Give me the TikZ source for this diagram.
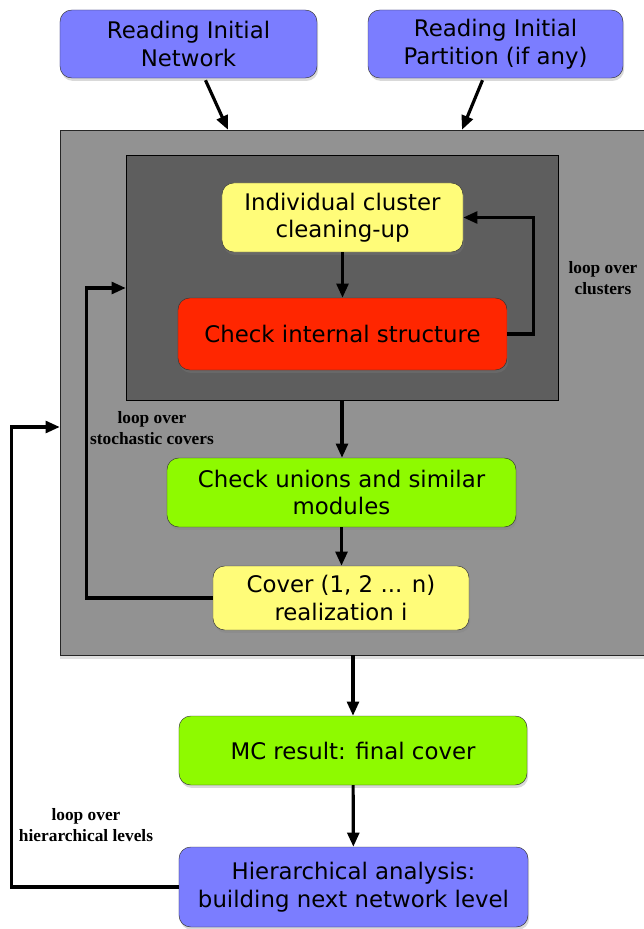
\documentclass[tikz,border=0pt]{standalone}
\usepackage{fontspec}
\setmainfont{DejaVu Sans}
\newfontfamily\looplabelfont{Liberation Serif}
\usetikzlibrary{arrows.meta,calc,shadows}

\definecolor{netblue}{RGB}{123,125,255}
\definecolor{cleanyellow}{RGB}{255,252,121}
\definecolor{checkred}{RGB}{255,38,0}
\definecolor{unionsgreen}{RGB}{142,250,0}
\definecolor{outergray}{RGB}{146,146,146}
\definecolor{innergray}{RGB}{94,94,94}

\begin{document}
\begin{tikzpicture}[x=0.03cm, y=-0.03cm,
	box/.style={draw=black!80, rounded corners=10pt, align=center, inner sep=0pt,
		font=\fontsize{19.5}{23.5}\selectfont,
		drop shadow={shadow xshift=1pt, shadow yshift=-2.5pt, opacity=0.3}},
	frame/.style={draw=black!85, inner sep=0pt},
	arr/.style={-{Triangle[length=12pt,width=10pt]}, line width=2.7pt},
	looplabel/.style={align=center, font=\looplabelfont\bfseries\fontsize{14.8}{18}\selectfont}]
	\useasboundingbox (0,0) rectangle (643,929);
	%\draw[help lines] (0,0) grid[step=50] (643,929);
	\node[box, fill=netblue, minimum width=7.71cm, minimum height=2.04cm] (net) at (188.5,44) {Reading Initial\\Network};
	\node[box, fill=netblue, minimum width=7.65cm, minimum height=2.04cm] (part) at (495.5,44) {Reading Initial\\Partition (if any)};
	\node[frame, fill=outergray, minimum width=17.7cm, minimum height=15.75cm,
		drop shadow={shadow xshift=0pt, shadow yshift=-3pt, opacity=0.25}] (outer) at (355,392.5) {};
	\node[frame, fill=innergray, draw=black, minimum width=12.96cm, minimum height=7.35cm] (inner) at (342,277.5) {};
	\node[box, fill=cleanyellow, minimum width=7.23cm, minimum height=2.07cm] (clean) at (342.5,217.5) {Individual cluster\\cleaning-up};
	\node[box, fill=checkred, minimum width=9.87cm, minimum height=2.16cm] (check) at (342.5,334) {Check internal structure};
	\node[box, fill=unionsgreen, minimum width=10.47cm, minimum height=2.07cm] (unions) at (341.5,492.5) {Check unions and similar\\modules};
	\node[box, fill=cleanyellow, minimum width=7.68cm, minimum height=1.92cm] (cover) at (341,598) {Cover (1, 2 ... n)\\realization i};
	\node[box, fill=unionsgreen, minimum width=10.44cm, minimum height=2.07cm] (mcres) at (353,750.5) {MC result: final cover};
	\node[box, fill=netblue, minimum width=10.47cm, minimum height=2.4cm] (hier) at (353.5,887) {Hierarchical analysis:\\building next network level};
	\node[looplabel] (lclusters) at (603,278) {loop over\\clusters};
	\node[looplabel] (lcovers) at (152,428) {loop over\\stochastic covers};
	\node[looplabel] (llevels) at (86,825) {loop over\\hierarchical levels};
	\draw[arr] ($(net.south)+(17,2)$) -- ($(outer.north)+(-127,0)$);
	\draw[arr] ($(part.south)+(-13,2)$) -- ($(outer.north)+(107,0)$);
	\draw[arr] (clean) -- (check);
	\draw[arr] (check.east) -- ++(26,0) |- (clean.east);
	\draw[arr] (inner.south) -- (inner.south |- unions.north);
	\draw[arr] (unions.south) -- (unions.south |- cover.north);
	\draw[arr] (cover.west) -- ++(-126,0) |- ($(inner.west)+(0,10.5)$);
	\draw[arr] (outer.south -| mcres.north) -- (mcres.north);
	\draw[arr] (mcres) -- (hier);
	\draw[arr] (hier.west) -- ++(-167,0) |- ($(outer.west)+(0,34.5)$);
\end{tikzpicture}
\end{document}
